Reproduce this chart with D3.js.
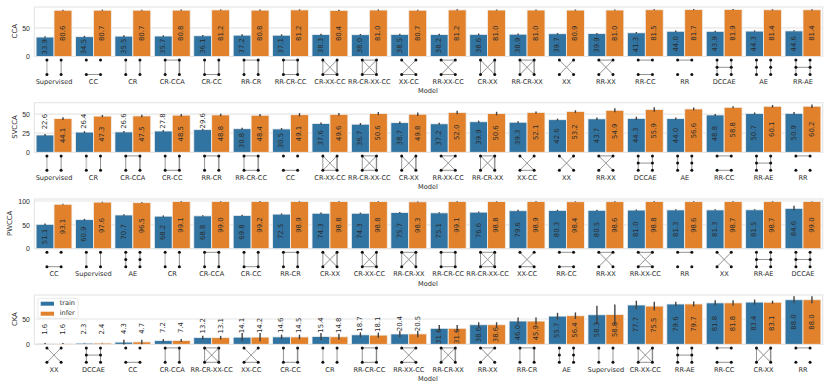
<!DOCTYPE html>
<html>
<head>
<meta charset="utf-8">
<script src="https://cdn.jsdelivr.net/npm/d3@7"></script>
<style>
  html, body { margin: 0; padding: 0; background: #fff; }
  svg { display: block; font-family: "DejaVu Sans", sans-serif; opacity: 0.999; }
</style>
</head>
<body>
<svg></svg>
<script>
const width = 830;
const height = 391;

//datos
const ccaModels = ["Supervised", "CC", "CR", "CR-CCA", "CR-CC", "RR-CR", "RR-CR-CC", "CR-XX-CC", "RR-CR-XX-CC", "XX-CC", "RR-XX-CC", "CR-XX", "RR-CR-XX", "XX", "RR-XX", "RR-CC", "RR", "DCCAE", "AE", "RR-AE"];
const ccaTrain = [33.9, 34.5, 35.5, 35.7, 36.1, 37.2, 37.1, 38.3, 38.0, 38.5, 38.2, 38.6, 38.9, 39.7, 39.9, 41.3, 44.0, 43.9, 44.3, 44.6];
const ccaInfer = [80.6, 80.7, 80.7, 80.8, 81.2, 80.8, 81.2, 80.4, 81.0, 80.7, 81.2, 81.0, 81.0, 80.9, 81.0, 81.5, 81.7, 81.9, 81.4, 81.4];
const ccaTrainErr = [1.2, 1.5, 1.4, 1.3, 1.3, 1.5, 1.4, 1.5, 1.3, 1.3, 1.3, 1.4, 1.3, 1.2, 1.2, 1.3, 1.2, 1.2, 1.2, 1.2];
const ccaInferErr = [1.0, 1.0, 0.9, 1.0, 0.9, 1.0, 0.9, 1.0, 1.0, 0.9, 1.0, 0.9, 1.0, 1.0, 1.0, 0.9, 1.0, 1.0, 0.9, 1.0];

const svccaModels = ["Supervised", "CR", "CR-CCA", "CR-CC", "RR-CR", "RR-CR-CC", "CC", "CR-XX-CC", "RR-CR-XX-CC", "CR-XX", "RR-XX-CC", "RR-CR-XX", "XX-CC", "XX", "RR-XX", "DCCAE", "AE", "RR-CC", "RR-AE", "RR"];
const svccaTrain = [22.6, 26.4, 26.6, 27.8, 29.6, 30.8, 30.5, 37.6, 36.7, 38.7, 37.2, 39.9, 39.3, 42.6, 43.7, 44.3, 44.0, 48.8, 50.7, 50.9];
const svccaInfer = [44.1, 47.3, 47.5, 48.5, 48.8, 48.4, 49.1, 49.6, 50.6, 49.8, 52.0, 50.6, 52.1, 53.2, 54.9, 55.9, 56.6, 58.8, 60.1, 60.2];
const svccaTrainErr = [1.3, 1.2, 1.1, 1.2, 1.2, 1.4, 1.2, 1.3, 1.6, 1.7, 1.3, 1.4, 1.3, 1.4, 1.9, 2.2, 1.5, 1.4, 1.4, 1.6];
const svccaInferErr = [1.8, 1.5, 1.6, 1.7, 1.6, 1.5, 2.2, 1.7, 2.0, 2.3, 2.3, 2.3, 1.3, 1.7, 2.5, 2.9, 1.9, 1.4, 1.7, 2.2];

const pwccaModels = ["CC", "Supervised", "AE", "CR", "CR-CCA", "CR-CC", "RR-CR", "CR-XX", "CR-XX-CC", "RR-CR-XX", "RR-CR-CC", "RR-CR-XX-CC", "XX-CC", "RR-CC", "RR-XX", "RR-XX-CC", "RR", "XX", "RR-AE", "DCCAE"];
const pwccaTrain = [51.1, 60.9, 70.7, 68.2, 68.8, 69.8, 72.5, 74.3, 74.3, 75.7, 75.1, 76.6, 79.6, 80.3, 80.5, 81.0, 81.3, 81.3, 81.5, 84.6];
const pwccaInfer = [93.1, 97.6, 96.5, 99.1, 99.0, 99.2, 98.9, 98.8, 98.8, 98.3, 99.1, 98.8, 98.9, 98.4, 98.6, 98.8, 98.6, 98.7, 98.7, 99.0];
const pwccaTrainErr = [1.8, 1.8, 1.4, 1.6, 1.3, 1.4, 1.5, 1.5, 1.4, 1.3, 1.4, 1.4, 1.8, 1.4, 1.3, 1.3, 1.3, 1.2, 1.3, 5.2];
const pwccaInferErr = [1.2, 0.9, 1.0, 0.7, 0.7, 0.7, 0.7, 0.7, 0.7, 0.7, 0.7, 0.7, 0.8, 0.8, 0.7, 0.7, 0.7, 0.7, 0.7, 0.7];

const ckaModels = ["XX", "DCCAE", "CC", "CR-CCA", "RR-CR-XX-CC", "XX-CC", "CR-CC", "CR", "RR-CR-CC", "RR-XX-CC", "RR-CR-XX", "RR-XX", "RR-CR", "AE", "Supervised", "CR-XX-CC", "RR-AE", "RR-CC", "CR-XX", "RR"];
const ckaTrain = [1.6, 2.3, 4.3, 7.2, 13.2, 14.1, 14.6, 15.4, 18.7, 20.4, 31.6, 38.6, 46.0, 55.7, 58.3, 77.7, 79.6, 81.8, 83.4, 88.0];
const ckaInfer = [1.6, 2.4, 4.7, 7.4, 13.1, 14.2, 14.5, 14.8, 18.1, 20.5, 31.6, 38.6, 45.9, 56.4, 58.8, 75.5, 79.7, 81.8, 83.1, 88.0];
const ckaTrainErr = [1.0, 0.5, 4.5, 3.0, 3.5, 8.0, 4.5, 7.0, 5.0, 6.5, 6.5, 5.0, 7.0, 6.5, 18.0, 8.5, 4.6, 5.0, 5.0, 7.0];
const ckaInferErr = [1.0, 0.5, 4.5, 3.0, 3.5, 8.0, 4.5, 6.0, 5.0, 6.5, 6.5, 5.0, 7.0, 6.5, 20.0, 8.5, 5.0, 5.0, 3.0, 7.0];

const series = ["train", "infer"];

//aristas de cada modelo: l = solo gris, r = oscura sin halo
const modelEdges = {
  "Supervised": ["l", "r"],
  "CC": ["B"],
  "CR": ["l", "r"],
  "CR-CCA": ["T", "L", "R"],
  "CR-CC": ["L", "R", "B"],
  "RR-CR": ["T", "L", "R"],
  "RR-CR-CC": ["T", "L", "R", "B"],
  "CR-XX-CC": ["L", "R", "X", "Y", "B"],
  "RR-CR-XX-CC": ["T", "L", "R", "X", "Y", "B"],
  "XX-CC": ["X", "Y", "B"],
  "RR-XX-CC": ["T", "X", "Y", "B"],
  "CR-XX": ["L", "R", "X", "Y"],
  "RR-CR-XX": ["T", "L", "R", "X", "Y"],
  "XX": ["X", "Y"],
  "RR-XX": ["T", "X", "Y"],
  "RR-CC": ["T", "B"],
  "RR": ["T"],
  "DCCAE": ["C", "D", "M"],
  "AE": ["C", "D"],
  "RR-AE": ["C", "D", "M"]
};
const sixNodeModels = ["DCCAE", "AE", "RR-AE"];

const edgeEnds = {
  l: [["left", "top"], ["left", "bottom"]],
  L: [["left", "top"], ["left", "bottom"]],
  r: [["right", "top"], ["right", "bottom"]],
  R: [["right", "top"], ["right", "bottom"]],
  T: [["left", "top"], ["right", "top"]],
  B: [["left", "bottom"], ["right", "bottom"]],
  X: [["left", "top"], ["right", "bottom"]],
  Y: [["right", "top"], ["left", "bottom"]],
  C: [["left", "top"], ["left", "bottom"]],
  D: [["right", "top"], ["right", "bottom"]],
  M: [["left", "mid"], ["right", "mid"]]
};

const panels = [
  { name: "CCA", models: ccaModels, train: ccaTrain, infer: ccaInfer, trainErr: ccaTrainErr, inferErr: ccaInferErr, top: 7, base: 56.5, max: 86.3, ticks: [0, 50], labelX: 14.7, modelY: 91, lift: () => 14 },
  { name: "SVCCA", models: svccaModels, train: svccaTrain, infer: svccaInfer, trainErr: svccaTrainErr, inferErr: svccaInferErr, top: 102.7, base: 152.3, max: 64.8, ticks: [0, 25, 50], labelX: 14.7, modelY: 187.7, lift: (v) => 13.4 - (v - 22.6) * 0.65 },
  { name: "PWCCA", models: pwccaModels, train: pwccaTrain, infer: pwccaInfer, trainErr: pwccaTrainErr, inferErr: pwccaInferErr, top: 199, base: 248.7, max: 104.2, ticks: [0, 50, 100], labelX: 10, modelY: 284, lift: () => 14 },
  { name: "CKA", models: ckaModels, train: ckaTrain, infer: ckaInfer, trainErr: ckaTrainErr, inferErr: ckaInferErr, top: 295, base: 344.3, max: 97.4, ticks: [0, 50], labelX: 14.7, modelY: 379, lift: (v) => 14.5 - v * 0.2 }
];

const left = 34.3;
const right = 822.7;
const color = d3.scaleOrdinal().domain(series).range(["#3274a1", "#e1812c"]);
const textColor = "#2b2b2b";
const lightLine = "#e6e6e6";

const svg = d3.select("svg").attr("width", width).attr("height", height);

panels.forEach(drawPanel);
drawLegend(panels[3]);

function drawPanel(p) {
  const x = d3.scaleBand().domain(p.models).range([left, right]);
  const xInner = d3.scaleBand().domain(series).range([0, x.bandwidth()]).padding(0).paddingOuter(0.1);
  const y = d3.scaleLinear().domain([0, p.max]).range([p.base, p.top]);
  const g = svg.append("g");

  //rejilla
  g.append("g")
    .selectAll("line")
    .data(p.ticks)
    .join("line")
    .attr("x1", left)
    .attr("x2", right)
    .attr("y1", (d) => y(d))
    .attr("y2", (d) => y(d))
    .attr("stroke", lightLine)
    .attr("stroke-width", 1.2);

  //marco
  g.append("rect")
    .attr("x", left)
    .attr("y", p.top)
    .attr("width", right - left)
    .attr("height", p.base - p.top)
    .attr("fill", "none")
    .attr("stroke", lightLine)
    .attr("stroke-width", 1.2);

  //ejeY
  const yAxis = g
    .append("g")
    .attr("transform", `translate(${left}, 0)`)
    .call(d3.axisLeft(y).tickValues(p.ticks).tickSize(0).tickPadding(4.5));
  yAxis.select(".domain").remove();
  yAxis.selectAll("text").attr("font-size", 6.9).attr("fill", textColor);

  //etiqueta y
  g.append("text")
    .attr("transform", `translate(${p.labelX}, ${(p.top + p.base) / 2 - 0.5}) rotate(-90)`)
    .attr("text-anchor", "middle")
    .attr("dominant-baseline", "middle")
    .attr("font-size", 6.9)
    .attr("fill", textColor)
    .text(p.name);

  //etiqueta x
  g.append("text")
    .attr("x", 428)
    .attr("y", p.modelY)
    .attr("text-anchor", "middle")
    .attr("dominant-baseline", "middle")
    .attr("font-size", 6.6)
    .attr("fill", textColor)
    .text("Model");

  series.forEach((s) => {
    const values = p[s];
    const errs = p[s + "Err"];
    const rows = p.models.map((m, i) => ({ model: m, value: values[i], err: errs[i] }));
    const cx = (d) => x(d.model) + xInner(s) + xInner.bandwidth() / 2;

    //barras
    g.append("g")
      .selectAll("rect")
      .data(rows)
      .join("rect")
      .attr("x", (d) => x(d.model) + xInner(s))
      .attr("y", (d) => y(d.value))
      .attr("width", xInner.bandwidth())
      .attr("height", (d) => y(0) - y(d.value))
      .attr("fill", color(s))
      .attr("stroke", "#f0f0f0")
      .attr("stroke-width", 0.8);

    //barras de error
    g.append("g")
      .selectAll("line")
      .data(rows)
      .join("line")
      .attr("x1", cx)
      .attr("x2", cx)
      .attr("y1", (d) => y(d.value - d.err))
      .attr("y2", (d) => y(d.value + d.err))
      .attr("stroke", "#424242")
      .attr("stroke-width", 1.4);

    //valores
    g.append("g")
      .selectAll("text")
      .data(rows)
      .join("text")
      .attr("transform", (d) => {
        const ty = d.value < 30 ? y(d.value) - p.lift(d.value) : y(d.value / 2);
        return `translate(${cx(d)}, ${ty}) rotate(-90)`;
      })
      .attr("text-anchor", "middle")
      .attr("dominant-baseline", "middle")
      .attr("font-size", 6.9)
      .attr("fill", textColor)
      .text((d) => d.value.toFixed(1));
  });

  //grafos debajo de cada modelo
  const nodeX = d3.scalePoint().domain(["left", "right"]);
  const nodeY = d3.scalePoint().domain(["top", "mid", "bottom"]).range([p.base + 3.6, p.base + 18]);
  p.models.forEach((m) => {
    const c = x(m) + x.bandwidth() / 2;
    nodeX.range([c - 7.1, c + 7.1]);
    const glyph = g.append("g");
    const px = (e) => nodeX(e[0]);
    const py = (e) => nodeY(e[1]);
    const edges = modelEdges[m];

    //halo gris en las aristas externas
    glyph.selectAll("line.halo")
      .data(edges.filter((e) => "lRXY".includes(e)))
      .join("line")
      .attr("class", "halo")
      .attr("x1", (e) => px(edgeEnds[e][0]))
      .attr("y1", (e) => py(edgeEnds[e][0]))
      .attr("x2", (e) => px(edgeEnds[e][1]))
      .attr("y2", (e) => py(edgeEnds[e][1]))
      .attr("stroke", "#cfcfcf")
      .attr("stroke-width", (e) => ("XY".includes(e) ? 1 : 1.8));

    glyph.selectAll("line.edge")
      .data(edges.filter((e) => e !== "l"))
      .join("line")
      .attr("class", "edge")
      .attr("x1", (e) => px(edgeEnds[e][0]))
      .attr("y1", (e) => py(edgeEnds[e][0]))
      .attr("x2", (e) => px(edgeEnds[e][1]))
      .attr("y2", (e) => py(edgeEnds[e][1]))
      .attr("stroke", (e) => ("XY".includes(e) ? "#888" : "#666"))
      .attr("stroke-width", 0.7);

    const nodes = [];
    const rowsNeeded = sixNodeModels.includes(m) ? ["top", "mid", "bottom"] : ["top", "bottom"];
    rowsNeeded.forEach((r) => ["left", "right"].forEach((col) => nodes.push([col, r])));
    glyph.selectAll("circle")
      .data(nodes)
      .join("circle")
      .attr("cx", px)
      .attr("cy", py)
      .attr("r", 1.5)
      .attr("fill", "#111");

    //nombre del modelo
    g.append("text")
      .attr("x", c)
      .attr("y", p.base + 25.7)
      .attr("text-anchor", "middle")
      .attr("dominant-baseline", "middle")
      .attr("font-size", 6.6)
      .attr("fill", textColor)
      .text(m);
  });
}

function drawLegend(p) {
  const legend = svg.append("g").attr("transform", `translate(38, ${p.top + 3.3})`);
  legend.append("rect")
    .attr("width", 40)
    .attr("height", 20)
    .attr("rx", 1.2)
    .attr("fill", "#fff")
    .attr("fill-opacity", 0.85)
    .attr("stroke", "#e3e3e3")
    .attr("stroke-width", 0.8);
  const rowY = d3.scalePoint().domain(series).range([5.4, 15.4]);
  series.forEach((s) => {
    legend.append("rect")
      .attr("x", 2.7)
      .attr("y", rowY(s) - 2)
      .attr("width", 13.3)
      .attr("height", 4)
      .attr("fill", color(s));
    legend.append("text")
      .attr("x", 21.7)
      .attr("y", rowY(s))
      .attr("dominant-baseline", "middle")
      .attr("font-size", 6.6)
      .attr("fill", textColor)
      .text(s);
  });
}
</script>
</body>
</html>
